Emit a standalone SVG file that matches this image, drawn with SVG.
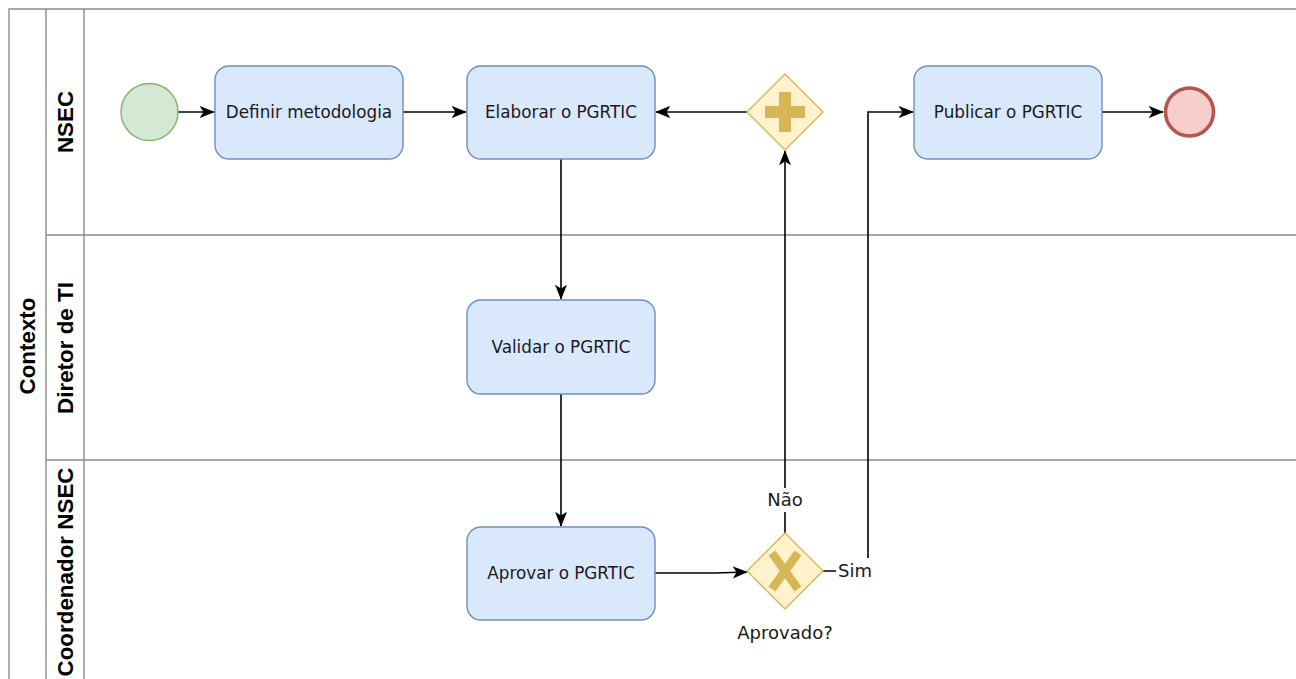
<svg xmlns="http://www.w3.org/2000/svg" width="1296" height="679" viewBox="0 0 1296 679">
<style>
.pool{fill:none;stroke:#8c8c8c;stroke-width:1.4}
.lt{font-family:"Liberation Sans",Arial,sans-serif;font-weight:bold;font-size:22.4px;fill:#000;text-anchor:middle}
.task{fill:#dae8fc;stroke:#6c8ebf;stroke-width:1.4}
.tt{font-family:"DejaVu Sans",Verdana,sans-serif;font-size:16.8px;fill:#1a1a1a;text-anchor:middle}
.lbl{font-family:"DejaVu Sans",Verdana,sans-serif;font-size:18px;fill:#1a1a1a;text-anchor:middle}
.gw{fill:#fff2cc;stroke:#d6b656;stroke-width:1.4}
.edge{fill:none;stroke:#000;stroke-width:1.6}
</style>
<defs>
<marker id="arr" viewBox="0 0 10 10" refX="9.5" refY="5" markerWidth="15" markerHeight="15" markerUnits="userSpaceOnUse" orient="auto">
<path d="M0,1 L10,5 L0,9 L2.5,5 Z" fill="#000"/>
</marker>
</defs>
<rect width="1296" height="679" fill="#fff"/>
<g id="pool">
<path class="pool" d="M1296,9 H9 V683 M46,9 V683 M84,9 V683 M46,235 H1296 M46,460 H1296"/>
<text class="lt" transform="translate(35,346) rotate(-90)">Contexto</text>
<text class="lt" transform="translate(73,122) rotate(-90)">NSEC</text>
<text class="lt" transform="translate(73,348) rotate(-90)">Diretor de TI</text>
<text class="lt" transform="translate(73,572) rotate(-90)">Coordenador NSEC</text>
</g>
<g id="connectors">
<path class="edge" d="M178,112 H214" marker-end="url(#arr)"/>
<path class="edge" d="M403,112 H466" marker-end="url(#arr)"/>
<path class="edge" d="M748,112 H656" marker-end="url(#arr)"/>
<path class="edge" d="M561,159 V299" marker-end="url(#arr)"/>
<path class="edge" d="M561,394 V526" marker-end="url(#arr)"/>
<path class="edge" d="M655,573 H715 L747,572" marker-end="url(#arr)"/>
<path class="edge" d="M785,533 V151" marker-end="url(#arr)"/>
<path class="edge" d="M823,571 H868 V112 H913" marker-end="url(#arr)"/>
<path class="edge" d="M1102,112 H1163" marker-end="url(#arr)"/>
<rect x="767" y="488" width="36" height="24" fill="#fff"/>
<text class="lbl" x="785" y="506">Não</text>
<rect x="836" y="558" width="38" height="26" fill="#fff"/>
<text class="lbl" x="855" y="577">Sim</text>
</g>
<g id="start"><circle cx="149.5" cy="112" r="28.5" fill="#d5e8d4" stroke="#82b366" stroke-width="1.4"/></g>
<g id="definir"><rect class="task" x="215" y="66" width="188" height="93" rx="14"/><text class="tt" x="309" y="118">Definir metodologia</text></g>
<g id="elaborar"><rect class="task" x="467" y="66" width="188" height="93" rx="14"/><text class="tt" x="561" y="118">Elaborar o PGRTIC</text></g>
<g id="gw-parallel"><path class="gw" d="M785,74 L823,112 L785,150 L747,112 Z"/><path d="M779,92 H791 V106 H805 V118 H791 V132 H779 V118 H765 V106 H779 Z" fill="#d6b656"/></g>
<g id="publicar"><rect class="task" x="914" y="66" width="188" height="93" rx="14"/><text class="tt" x="1008" y="118">Publicar o PGRTIC</text></g>
<g id="end"><circle cx="1189.5" cy="112" r="24" fill="#f8cecc" stroke="#b85450" stroke-width="3.5"/></g>
<g id="validar"><rect class="task" x="467" y="300" width="188" height="94" rx="14"/><text class="tt" x="561" y="353">Validar o PGRTIC</text></g>
<g id="aprovar"><rect class="task" x="467" y="527" width="188" height="93" rx="14"/><text class="tt" x="561" y="579">Aprovar o PGRTIC</text></g>
<g id="gw-exclusive"><path class="gw" d="M785,533 L823,571 L785,609 L747,571 Z"/><path d="M772,553 L798,589 M798,553 L772,589" stroke="#d6b656" stroke-width="8.5"/><text class="lbl" x="785" y="639">Aprovado?</text></g>
</svg>
